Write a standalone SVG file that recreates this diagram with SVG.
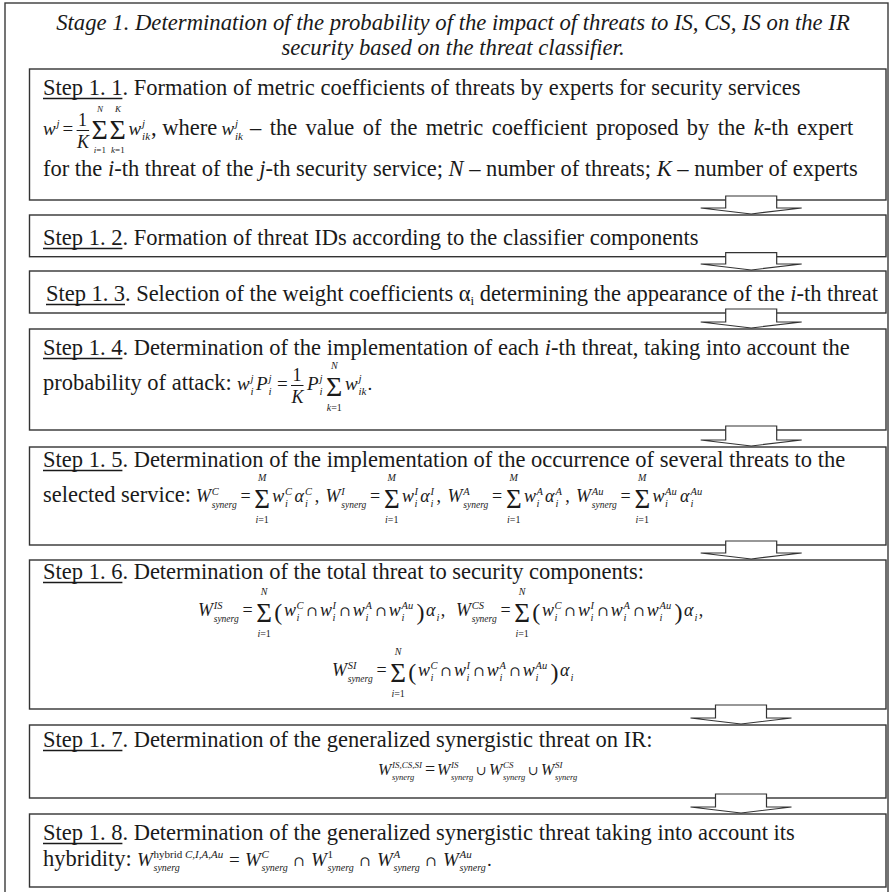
<svg xmlns="http://www.w3.org/2000/svg" width="889" height="892" viewBox="0 0 889 892">
<style>
.frame{fill:none;stroke:#3a3a3a;stroke-width:1.4}
.box{fill:#fff;stroke:#333;stroke-width:1.4}
.arrow{fill:#fff;stroke:#333;stroke-width:1.2;stroke-linejoin:miter}
text{font-family:"Liberation Serif","Times New Roman",serif;fill:#1a1a1a}
.ttl{font-size:22.7px;font-style:italic}
.b{font-size:22.5px}
.v{font-size:19px;font-style:italic}
.o{font-size:19px}
.f{font-size:18px}
.s{font-size:11px;font-style:italic}
.sr{font-size:11px}
.syn{font-size:10px;font-style:italic}
.L{font-size:28px}
.l{font-size:10px;font-style:italic}
.l9{font-size:9px;font-style:italic}
.v2{font-size:18px;font-style:italic}
.o2{font-size:18px}
.s2{font-size:10.5px;font-style:italic}
.syn2{font-size:9.5px;font-style:italic}
.L2{font-size:27px}
.l2{font-size:10px;font-style:italic}
.P2{font-size:24px}
.v3{font-size:16px;font-style:italic}
.s3{font-size:9px;font-style:italic}
.syn3{font-size:8.5px;font-style:italic}
.cu{font-family:"DejaVu Serif",serif;font-size:14px}
.cu3{font-family:"DejaVu Serif",serif;font-size:13px}
.it{font-style:italic}
.n{font-style:normal}
.ul{stroke:#1a1a1a;stroke-width:1.5}
.fr{stroke:#1a1a1a;stroke-width:1}
</style>
<rect class="frame" x="5" y="3" width="883" height="900"/>
<g id="stage">
<text class="ttl" x="453" y="30" text-anchor="middle">Stage 1. Determination of the probability of the impact of threats to IS, CS, IS on the IR</text>
<text class="ttl" x="453" y="55" text-anchor="middle">security based on the threat classifier.</text>
</g>

<g id="step-1-1">
<rect class="box" x="29.5" y="69" width="856.5" height="131"/>
<text class="b" x="43" y="95">Step 1. 1. Formation of metric coefficients of threats by experts for security services</text>
<line class="ul" x1="43" y1="98.5" x2="122.4" y2="98.5"/>
<text class="v" x="43" y="135">w</text><text class="s" x="56.6" y="127">j</text>
<text class="o" x="62.6" y="135">=</text>
<text class="f" x="82.6" y="126" text-anchor="middle">1</text>
<line class="fr" x1="76.6" y1="130.5" x2="89.1" y2="130.5"/>
<text class="f it" x="83.1" y="148" text-anchor="middle">K</text>
<text class="L" x="91.6" y="139">Σ</text>
<text class="l9" x="99.9" y="112" text-anchor="middle">N</text>
<text class="l9" x="99.9" y="153" text-anchor="middle">i<tspan class="n">=1</tspan></text>
<text class="L" x="109.6" y="139">Σ</text>
<text class="l9" x="117.9" y="112" text-anchor="middle">K</text>
<text class="l9" x="117.9" y="153" text-anchor="middle">k<tspan class="n">=1</tspan></text>
<text class="v" x="128.6" y="135">w</text><text class="s" x="142.1" y="127">j</text><text class="s" x="142.1" y="140">ik</text>
<text class="b" x="151" y="135">, where</text>
<text class="v" x="221.5" y="135">w</text><text class="s" x="235" y="127">j</text><text class="s" x="235" y="140">ik</text>
<text class="b" x="250" y="135" word-spacing="2.8">– the value of the metric coefficient proposed by the <tspan class="it">k</tspan>-th expert</text>
<text class="b" x="43" y="176">for the <tspan class="it">i</tspan>-th threat of the <tspan class="it">j</tspan>-th security service; <tspan class="it">N</tspan> – number of threats; <tspan class="it">K</tspan> – number of experts</text>
</g>

<g id="step-1-2">
<rect class="box" x="29.5" y="215" width="856.5" height="41.7"/>
<text class="b" x="43" y="245">Step 1. 2. Formation of threat IDs according to the classifier components</text>
<line class="ul" x1="43" y1="248.5" x2="122.4" y2="248.5"/>
</g>

<g id="step-1-3">
<rect class="box" x="29.5" y="271" width="856.5" height="42"/>
<text class="b" x="46" y="301" textLength="832" lengthAdjust="spacing">Step 1. 3. Selection of the weight coefficients α<tspan font-size="13px" dy="4">i</tspan><tspan dy="-4"> determining the appearance of the </tspan><tspan class="it">i</tspan>-th threat</text>
<line class="ul" x1="46" y1="304.5" x2="125" y2="304.5"/>
</g>

<g id="step-1-4">
<rect class="box" x="29.5" y="329" width="856.5" height="101"/>
<text class="b" x="43" y="355">Step 1. 4. Determination of the implementation of each <tspan class="it">i</tspan>-th threat, taking into account the</text>
<line class="ul" x1="43" y1="358.5" x2="122.4" y2="358.5"/>
<text class="b" x="43" y="390">probability of attack:</text>
<text class="v" x="237" y="390">w</text><text class="s" x="250.5" y="382">j</text><text class="s" x="250.5" y="395">i</text>
<text class="v" x="256" y="390">P</text><text class="s" x="268.5" y="382">j</text><text class="s" x="268.5" y="395">i</text>
<text class="o" x="277" y="390">=</text>
<text class="f" x="297" y="381" text-anchor="middle">1</text>
<line class="fr" x1="291" y1="385.5" x2="303.5" y2="385.5"/>
<text class="f it" x="297.5" y="403" text-anchor="middle">K</text>
<text class="v" x="307" y="390">P</text><text class="s" x="319.5" y="382">j</text><text class="s" x="319.5" y="395">i</text>
<text class="L" x="326" y="396">Σ</text>
<text class="l" x="334.3" y="369" text-anchor="middle">N</text>
<text class="l" x="334.3" y="411" text-anchor="middle">k<tspan class="n">=1</tspan></text>
<text class="v" x="345" y="390">w</text><text class="s" x="358.5" y="382">j</text><text class="s" x="358.5" y="395">ik</text>
<text class="o" x="367.5" y="390">.</text>
</g>

<g id="step-1-5">
<rect class="box" x="29.5" y="447" width="856.5" height="98"/>
<text class="b" x="43" y="467">Step 1. 5. Determination of the implementation of the occurrence of several threats to the</text>
<line class="ul" x1="43" y1="470.5" x2="122.4" y2="470.5"/>
<text class="b" x="43" y="502">selected service:</text>
<text class="v2" x="196" y="502">W</text><text class="s2" x="211.7" y="494.5">C</text><text class="syn2" x="211.7" y="507.5">synerg</text>
<text class="o2" x="240.5" y="502">=</text>
<text class="L2" x="254.3" y="507.5">Σ</text>
<text class="l2" x="262.1" y="481" text-anchor="middle">M</text>
<text class="l2" x="262.1" y="523" text-anchor="middle">i<tspan class="n">=1</tspan></text>
<text class="v2" x="272.3" y="502">w</text><text class="s2" x="285" y="494.5">C</text><text class="s2" x="285" y="506.5">i</text>
<text class="v2" x="294.6" y="502">α</text><text class="s2" x="305" y="494.5">C</text><text class="s2" x="305" y="506.5">i</text>
<text class="o2" x="314.7" y="502">,</text>
<text class="v2" x="325.6" y="502">W</text><text class="s2" x="341.3" y="494.5">I</text><text class="syn2" x="341.3" y="507.5">synerg</text>
<text class="o2" x="370.1" y="502">=</text>
<text class="L2" x="383.9" y="507.5">Σ</text>
<text class="l2" x="391.7" y="481" text-anchor="middle">M</text>
<text class="l2" x="391.7" y="523" text-anchor="middle">i<tspan class="n">=1</tspan></text>
<text class="v2" x="401.9" y="502">w</text><text class="s2" x="414.6" y="494.5">I</text><text class="s2" x="414.6" y="506.5">i</text>
<text class="v2" x="420.2" y="502">α</text><text class="s2" x="430.6" y="494.5">I</text><text class="s2" x="430.6" y="506.5">i</text>
<text class="o2" x="436.6" y="502">,</text>
<text class="v2" x="447.6" y="502">W</text><text class="s2" x="463.3" y="494.5">A</text><text class="syn2" x="463.3" y="507.5">synerg</text>
<text class="o2" x="492.1" y="502">=</text>
<text class="L2" x="505.9" y="507.5">Σ</text>
<text class="l2" x="513.7" y="481" text-anchor="middle">M</text>
<text class="l2" x="513.7" y="523" text-anchor="middle">i<tspan class="n">=1</tspan></text>
<text class="v2" x="523.9" y="502">w</text><text class="s2" x="536.6" y="494.5">A</text><text class="s2" x="536.6" y="506.5">i</text>
<text class="v2" x="545.1" y="502">α</text><text class="s2" x="555.6" y="494.5">A</text><text class="s2" x="555.6" y="506.5">i</text>
<text class="o2" x="565.3" y="502">,</text>
<text class="v2" x="576.1" y="502">W</text><text class="s2" x="591.8" y="494.5">Au</text><text class="syn2" x="591.8" y="507.5">synerg</text>
<text class="o2" x="620.6" y="502">=</text>
<text class="L2" x="634.4" y="507.5">Σ</text>
<text class="l2" x="642.2" y="481" text-anchor="middle">M</text>
<text class="l2" x="642.2" y="523" text-anchor="middle">i<tspan class="n">=1</tspan></text>
<text class="v2" x="652.4" y="502">w</text><text class="s2" x="665.1" y="494.5">Au</text><text class="s2" x="665.1" y="506.5">i</text>
<text class="v2" x="680.1" y="502">α</text><text class="s2" x="690.6" y="494.5">Au</text><text class="s2" x="690.6" y="506.5">i</text>
</g>

<g id="step-1-6">
<rect class="box" x="29.5" y="560" width="856.5" height="149"/>
<text class="b" x="43" y="579">Step 1. 6. Determination of the total threat to security components:</text>
<line class="ul" x1="43" y1="582.5" x2="122.4" y2="582.5"/>
<text class="v2" x="198" y="616">W</text><text class="s2" x="213.7" y="608.5">IS</text><text class="syn2" x="213.7" y="621.5">synerg</text>
<text class="o2" x="242.5" y="616">=</text>
<text class="L2" x="256.3" y="621.5">Σ</text>
<text class="l2" x="264.1" y="595" text-anchor="middle">N</text>
<text class="l2" x="264.1" y="637" text-anchor="middle">i<tspan class="n">=1</tspan></text>
<text class="P2" x="274.3" y="620">(</text>
<text class="v2" x="283.9" y="616">w</text><text class="s2" x="296.6" y="608.5">C</text><text class="s2" x="296.6" y="620.5">i</text>
<text class="cu" x="306.1" y="616">∩</text>
<text class="v2" x="319.9" y="616">w</text><text class="s2" x="332.6" y="608.5">I</text><text class="s2" x="332.6" y="620.5">i</text>
<text class="cu" x="339" y="616">∩</text>
<text class="v2" x="352.8" y="616">w</text><text class="s2" x="365.5" y="608.5">A</text><text class="s2" x="365.5" y="620.5">i</text>
<text class="cu" x="375" y="616">∩</text>
<text class="v2" x="388.8" y="616">w</text><text class="s2" x="401.5" y="608.5">Au</text><text class="s2" x="401.5" y="620.5">i</text>
<text class="P2" x="416.4" y="620">)</text>
<text class="v2" x="425.9" y="616">α</text><text class="s2" x="436.5" y="620.5">i</text>
<text class="o2" x="440.7" y="616">,</text>
<text class="v2" x="456" y="616">W</text><text class="s2" x="471.7" y="608.5">CS</text><text class="syn2" x="471.7" y="621.5">synerg</text>
<text class="o2" x="500.5" y="616">=</text>
<text class="L2" x="514.3" y="621.5">Σ</text>
<text class="l2" x="522.1" y="595" text-anchor="middle">N</text>
<text class="l2" x="522.1" y="637" text-anchor="middle">i<tspan class="n">=1</tspan></text>
<text class="P2" x="532.3" y="620">(</text>
<text class="v2" x="541.9" y="616">w</text><text class="s2" x="554.6" y="608.5">C</text><text class="s2" x="554.6" y="620.5">i</text>
<text class="cu" x="564.1" y="616">∩</text>
<text class="v2" x="577.9" y="616">w</text><text class="s2" x="590.6" y="608.5">I</text><text class="s2" x="590.6" y="620.5">i</text>
<text class="cu" x="597" y="616">∩</text>
<text class="v2" x="610.8" y="616">w</text><text class="s2" x="623.5" y="608.5">A</text><text class="s2" x="623.5" y="620.5">i</text>
<text class="cu" x="633" y="616">∩</text>
<text class="v2" x="646.8" y="616">w</text><text class="s2" x="659.5" y="608.5">Au</text><text class="s2" x="659.5" y="620.5">i</text>
<text class="P2" x="674.4" y="620">)</text>
<text class="v2" x="683.9" y="616">α</text><text class="s2" x="694.5" y="620.5">i</text>
<text class="o2" x="698.7" y="616">,</text>
<text class="v2" x="332" y="676">W</text><text class="s2" x="347.7" y="668.5">SI</text><text class="syn2" x="347.7" y="681.5">synerg</text>
<text class="o2" x="376.5" y="676">=</text>
<text class="L2" x="390.3" y="681.5">Σ</text>
<text class="l2" x="398.1" y="655" text-anchor="middle">N</text>
<text class="l2" x="398.1" y="697" text-anchor="middle">i<tspan class="n">=1</tspan></text>
<text class="P2" x="408.3" y="680">(</text>
<text class="v2" x="417.9" y="676">w</text><text class="s2" x="430.6" y="668.5">C</text><text class="s2" x="430.6" y="680.5">i</text>
<text class="cu" x="440.1" y="676">∩</text>
<text class="v2" x="453.9" y="676">w</text><text class="s2" x="466.6" y="668.5">I</text><text class="s2" x="466.6" y="680.5">i</text>
<text class="cu" x="473" y="676">∩</text>
<text class="v2" x="486.8" y="676">w</text><text class="s2" x="499.5" y="668.5">A</text><text class="s2" x="499.5" y="680.5">i</text>
<text class="cu" x="509" y="676">∩</text>
<text class="v2" x="522.8" y="676">w</text><text class="s2" x="535.5" y="668.5">Au</text><text class="s2" x="535.5" y="680.5">i</text>
<text class="P2" x="550.4" y="680">)</text>
<text class="v2" x="559.9" y="676">α</text><text class="s2" x="570.5" y="680.5">i</text>
</g>

<g id="step-1-7">
<rect class="box" x="29.5" y="725" width="856.5" height="73"/>
<text class="b" x="43" y="747">Step 1. 7. Determination of the generalized synergistic threat on IR:</text>
<line class="ul" x1="43" y1="750.5" x2="122.4" y2="750.5"/>
<text class="v3" x="378" y="775">W</text><text class="s3" x="392" y="768">IS,CS,SI</text><text class="syn3" x="392" y="780">synerg</text>
<text class="o2" x="425" y="775">=</text>
<text class="v3" x="437" y="775">W</text><text class="s3" x="451" y="768">IS</text><text class="syn3" x="451" y="780">synerg</text>
<text class="cu3" x="476" y="775">∪</text>
<text class="v3" x="489" y="775">W</text><text class="s3" x="503" y="768">CS</text><text class="syn3" x="503" y="780">synerg</text>
<text class="cu3" x="528" y="775">∪</text>
<text class="v3" x="541" y="775">W</text><text class="s3" x="555" y="768">SI</text><text class="syn3" x="555" y="780">synerg</text>
</g>

<g id="step-1-8">
<rect class="box" x="29.5" y="814" width="856.5" height="73"/>
<text class="b" x="43" y="840">Step 1. 8. Determination of the generalized synergistic threat taking into account its</text>
<line class="ul" x1="43" y1="843.5" x2="122.4" y2="843.5"/>
<text class="b" x="43" y="866">hybridity:</text>
<text class="v" x="137" y="866">W</text><text class="sr" x="153.5" y="858">hybrid <tspan class="it">C,I,A,Au</tspan></text><text class="syn" x="153.5" y="871">synerg</text>
<text class="o" x="229" y="866">=</text>
<text class="v" x="245" y="866">W</text><text class="s" x="261.5" y="858">C</text><text class="syn" x="261.5" y="871">synerg</text>
<text class="cu" x="293" y="866">∩</text>
<text class="v" x="311" y="866">W</text><text class="sr" x="327.5" y="858">1</text><text class="syn" x="327.5" y="871">synerg</text>
<text class="cu" x="359" y="866">∩</text>
<text class="v" x="377" y="866">W</text><text class="s" x="393.5" y="858">A</text><text class="syn" x="393.5" y="871">synerg</text>
<text class="cu" x="425" y="866">∩</text>
<text class="v" x="443" y="866">W</text><text class="s" x="459.5" y="858">Au</text><text class="syn" x="459.5" y="871">synerg</text>
<text class="o" x="487" y="866">.</text>
</g>

<g id="connectors">
<polygon class="arrow" points="725.7,196 776.7,196 776.7,208 801.7,208 751.2,214 700.7,208 725.7,208"/>
<polygon class="arrow" points="725.7,252.7 776.7,252.7 776.7,264 801.7,264 751.2,270 700.7,264 725.7,264"/>
<polygon class="arrow" points="725.7,309 776.7,309 776.7,322 801.7,322 751.2,328 700.7,322 725.7,322"/>
<polygon class="arrow" points="725.7,426 776.7,426 776.7,440 801.7,440 751.2,446 700.7,440 725.7,440"/>
<polygon class="arrow" points="725.7,541 776.7,541 776.7,553 801.7,553 751.2,559 700.7,553 725.7,553"/>
<polygon class="arrow" points="715.5,705 766.5,705 766.5,718 791.5,718 741,724 690.5,718 715.5,718"/>
<polygon class="arrow" points="715.5,794 766.5,794 766.5,807 791.5,807 741,813 690.5,807 715.5,807"/>
</g>
</svg>
